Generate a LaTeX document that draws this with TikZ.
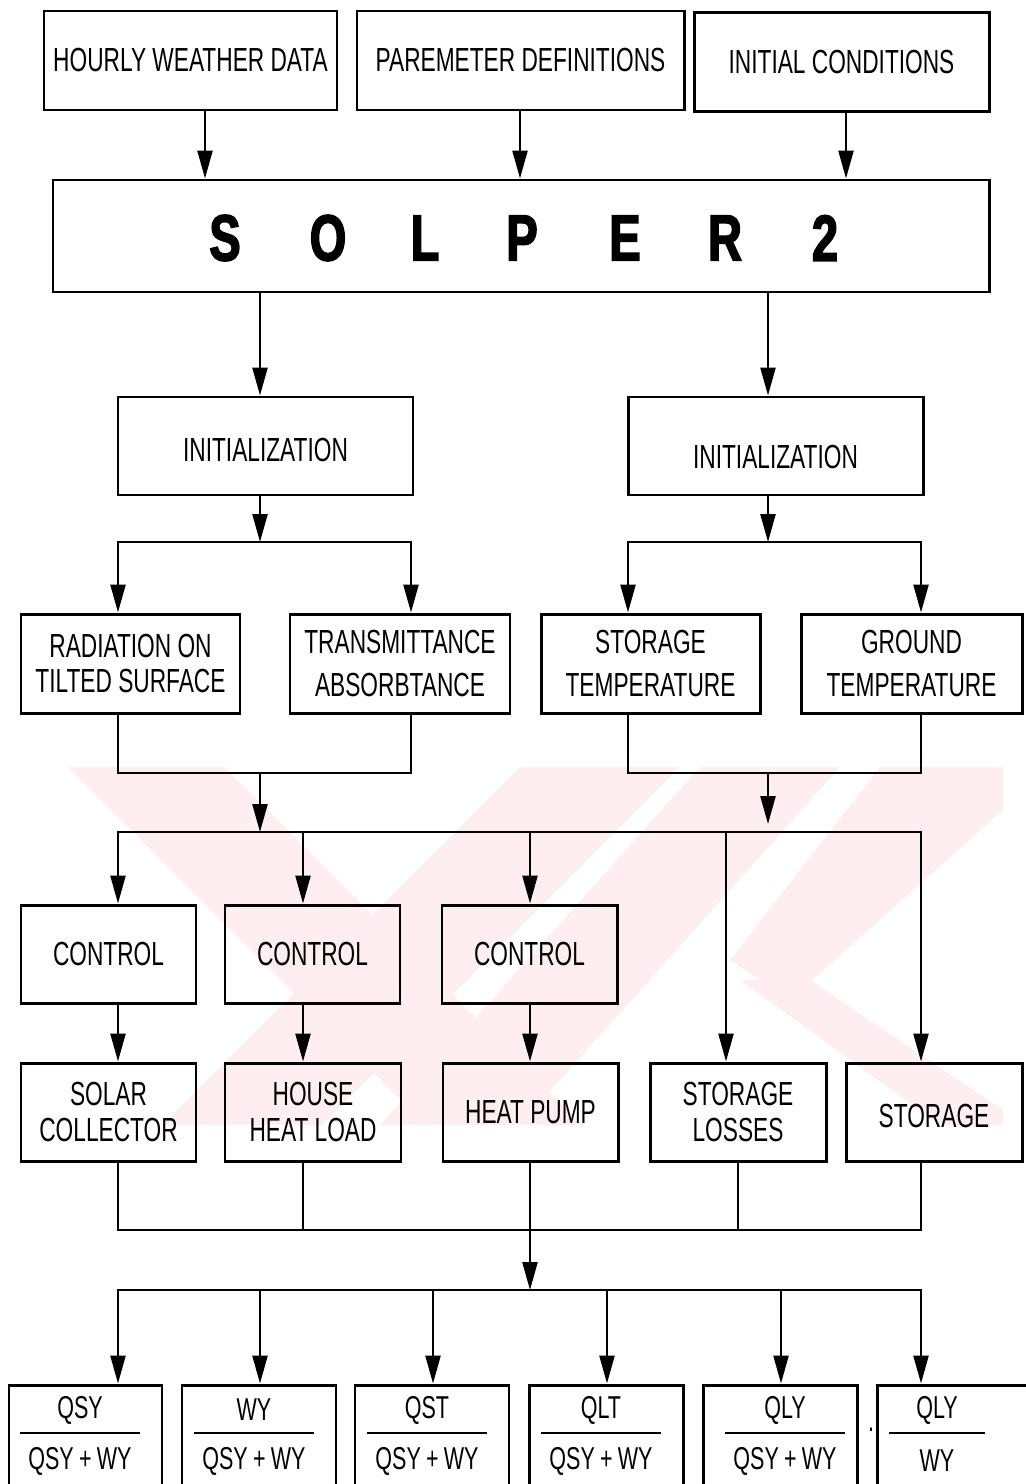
\documentclass[tikz,border=0pt]{standalone}
\usepackage{fontspec}
\newfontfamily\lettering{Liberation Sans}[FakeStretch=0.68]
\newfontfamily\heavy{Liberation Sans Bold}[FakeStretch=0.72, FakeBold=2.5]
\usetikzlibrary{arrows.meta}
\definecolor{wmpink}{RGB}{254,238,241}

\begin{document}
\begin{tikzpicture}[x=0.02cm, y=-0.02cm,
  box/.style 2 args={draw, line width=1.7pt, minimum width=#1*0.02cm,
    minimum height=#2*0.02cm, inner sep=0pt, align=center,
    font=\lettering\fontsize{19}{20}\selectfont},
  wire/.style={line width=1.4pt},
  arr/.style={wire, -{Triangle[length=5.6mm, width=3mm]}},
  letter/.style={font=\heavy\fontsize{37}{37}\selectfont},
  frac/.style={font=\lettering\fontsize{18}{18}\selectfont, inner sep=0pt}]
  \useasboundingbox (0,0) rectangle (1025,1484);
  % watermark in the background
  \begin{scope}
    \clip (68,767) rectangle (1003,1125);
    \fill [wmpink] (68,767) -- (225,767) -- (583,1125) -- (426,1125) -- cycle
    (520,767) -- (680,767) -- (322,1125) -- (162,1125) -- cycle
    (700,767) -- (840,767) -- (520,1125) -- (380,1125) -- cycle
    (880,767) -- (1003,767) -- (1003,810) -- (790,1000) -- (730,960) -- cycle
    (740,980) -- (810,980) -- (1003,1110) -- (1003,1125) -- (940,1125) -- cycle;
  \end{scope}
  % columns
  \foreach \n/\x in {a/118,b/260,c/411,d/628,e/768,f/921,g/303,h/530,
    i/726,j/738,k/433,l/607,m/781,t/205,u/520,v/846}
    \coordinate (x\n) at (\x,0);
  % boxes
  \node [box={293}{99}] (hourly) at (190.5,60.5) {HOURLY WEATHER DATA};
  \node [box={327}{99}] (param) at (520.5,60.5) {PAREMETER DEFINITIONS};
  \node [box={295}{99}] (initc) at (841.5,62) {INITIAL CONDITIONS};
  \node [box={936}{112}] (solper) at (521,236) {};
  \foreach \c/\x [count=\i] in {S/225,O/328,L/425,P/522,E/625,R/725,2/825}
    \node [letter] (s\i) at (\x,238) {\c};
  \node [box={295}{98}, text height=18pt] (initL) at (265.5,446) {INITIALIZATION};
  \node [box={295}{98}, text height=26pt] (initR) at (775.5,446) {INITIALIZATION};
  \node [box={219}{99}] (rad) at (130.5,663.5) {RADIATION ON\\TILTED SURFACE};
  \node [box={220}{99}] (trans) at (400,663.5) {TRANSMITTANCE\\[5pt]ABSORBTANCE};
  \node [box={219}{99}] (stortemp) at (650.5,663.5) {STORAGE\\[5pt]TEMPERATURE};
  \node [box={221}{99}] (ground) at (911.5,663.5) {GROUND\\[4pt]TEMPERATURE};
  \node [box={175}{98}] (ctrlA) at (108.5,954) {CONTROL};
  \node [box={175}{98}] (ctrlB) at (312.5,954) {CONTROL};
  \node [box={175}{98}] (ctrlC) at (529.5,954) {CONTROL};
  \node [box={175}{98}] (solar) at (108.5,1112) {SOLAR\\COLLECTOR};
  \node [box={176}{98}] (house) at (313,1112) {HOUSE\\HEAT LOAD};
  \node [box={175}{98}] (hpump) at (530.5,1112) {HEAT PUMP};
  \node [box={176}{98}] (sloss) at (738,1112) {STORAGE\\LOSSES};
  \node [box={176}{98}, text height=18pt] (storage) at (934,1112) {STORAGE};
  \foreach \x/\w/\c/\r/\num/\den [count=\i] in {85.5/153/80/60/QSY/QSY\,+\,WY,
    259/154/254/60/WY/QSY\,+\,WY, 432/154/427/60/QST/QSY\,+\,WY,
    606/154/601/60/QLT/QSY\,+\,WY, 780/154/785/60/QLY/QSY\,+\,WY,
    961/168/937/48/QLY/WY} {
    \node [box={\w}{107}] (q\i) at (\x,1438.5) {};
    \node [frac] (qn\i) at (\c,1410) {\num};
    \node [frac] (qd\i) at (\c,1461) {\den};
    \draw [wire] (\c-\r,1433) -- (\c+\r,1433);
  }
  \node [frac] (dot) at (871,1430) {.};
  % connectors
  \draw [arr] (hourly.south -| xt) -- (solper.north -| xt);
  \draw [arr] (param.south -| xu) -- (solper.north -| xu);
  \draw [arr] (initc.south -| xv) -- (solper.north -| xv);
  \draw [arr] (solper.south -| xb) -- (initL.north -| xb);
  \draw [arr] (solper.south -| xe) -- (initR.north -| xe);
  \coordinate (splitL) at (260,542);
  \coordinate (splitR) at (768,542);
  \draw [arr] (initL.south -| splitL) -- (splitL);
  \draw [arr] (splitL) -| (rad.north -| xa);
  \draw [arr] (splitL) -| (trans.north -| xc);
  \draw [arr] (initR.south -| splitR) -- (splitR);
  \draw [arr] (splitR) -| (stortemp.north -| xd);
  \draw [arr] (splitR) -| (ground.north -| xf);
  \coordinate (joinL) at (260,773);
  \coordinate (joinR) at (768,773);
  \draw [wire] (rad.south -| xa) |- (joinL) -| (trans.south -| xc);
  \draw [wire] (stortemp.south -| xd) |- (joinR) -| (ground.south -| xf);
  \coordinate (feed) at (260,832);
  \coordinate (feedR) at (768,824);
  \draw [arr] (joinL) -- (feed);
  \draw [arr] (joinR) -- (feedR);
  \draw [arr] (feed) -| (ctrlA.north -| xa);
  \draw [arr] (feed) -| (storage.north -| xf);
  \draw [arr] (feed -| xg) -- (ctrlB.north -| xg);
  \draw [arr] (feed -| xh) -- (ctrlC.north -| xh);
  \draw [arr] (feed -| xi) -- (sloss.north -| xi);
  \draw [arr] (ctrlA.south -| xa) -- (solar.north -| xa);
  \draw [arr] (ctrlB.south -| xg) -- (house.north -| xg);
  \draw [arr] (ctrlC.south -| xh) -- (hpump.north -| xh);
  \coordinate (collect) at (530,1230);
  \coordinate (spread) at (530,1290);
  \draw [wire] (solar.south -| xa) |- (collect) -| (storage.south -| xf);
  \draw [wire] (house.south -| xg) -- (collect -| xg);
  \draw [wire] (hpump.south -| xh) -- (collect);
  \draw [wire] (sloss.south -| xj) -- (collect -| xj);
  \draw [arr] (collect) -- (spread);
  \draw [arr] (spread) -| (q1.north -| xa);
  \draw [arr] (spread) -| (q6.north -| xf);
  \foreach \i/\n in {2/b,3/k,4/l,5/m}
    \draw [arr] (spread -| x\n) -- (q\i.north -| x\n);
\end{tikzpicture}
\end{document}
